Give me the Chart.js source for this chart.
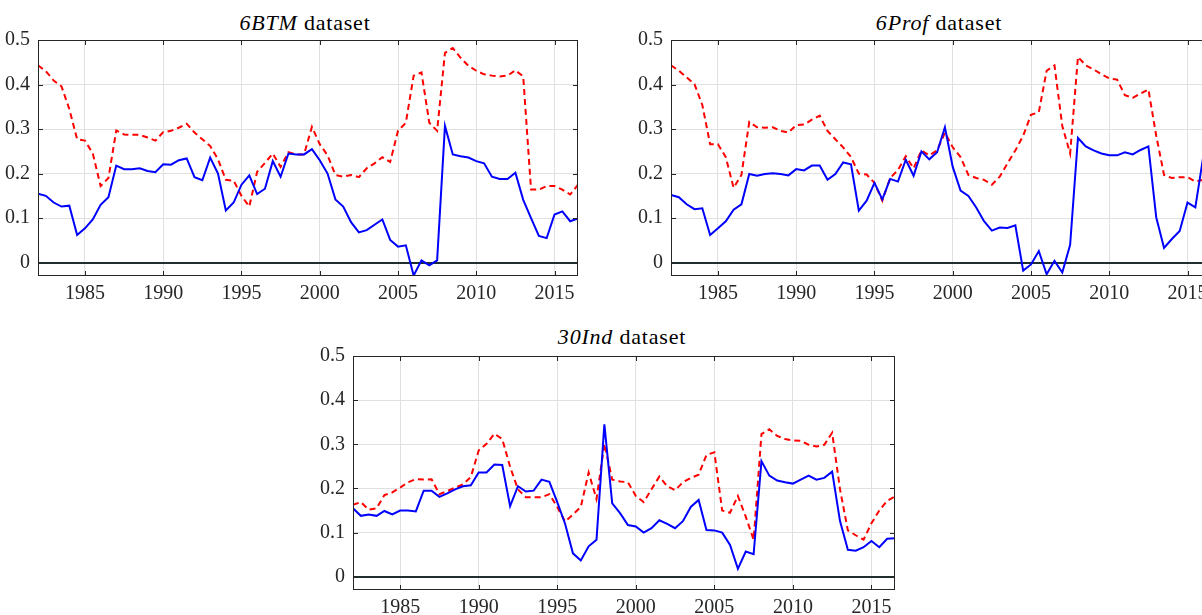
<!DOCTYPE html>
<html>
<head>
<meta charset="utf-8">
<script src="https://cdn.jsdelivr.net/npm/chart.js@4.4.1/dist/chart.umd.min.js"></script>
<style>
  html, body { margin:0; padding:0; background:#fff; }
  body { width:1202px; height:615px; overflow:hidden; position:relative; }
  canvas { position:absolute; }
  .ttl { position:absolute; width:300px; text-align:center; font-family:'Liberation Serif', 'DejaVu Serif', serif; font-size:22px; line-height:22px; color:#000; letter-spacing:0.8px; white-space:nowrap; }
</style>
</head>
<body>
<div class="ttl" style="left:155px; top:12px;"><i>6BTM</i> dataset</div>
<div class="ttl" style="left:789px; top:12px;"><i>6Prof</i> dataset</div>
<div class="ttl" style="left:472px; top:326px;"><i>30Ind</i> dataset</div>
<canvas id="c1" width="590" height="286" style="left:0px; top:20px;"></canvas>
<canvas id="c2" width="590" height="286" style="left:633px; top:20px;"></canvas>
<canvas id="c3" width="592" height="284" style="left:315px; top:336px;"></canvas>
<script>
// half-yearly observations
const years = [1982, 1982.5, 1983, 1983.5, 1984, 1984.5, 1985, 1985.5, 1986, 1986.5,
  1987, 1987.5, 1988, 1988.5, 1989, 1989.5, 1990, 1990.5, 1991, 1991.5,
  1992, 1992.5, 1993, 1993.5, 1994, 1994.5, 1995, 1995.5, 1996, 1996.5,
  1997, 1997.5, 1998, 1998.5, 1999, 1999.5, 2000, 2000.5, 2001, 2001.5,
  2002, 2002.5, 2003, 2003.5, 2004, 2004.5, 2005, 2005.5, 2006, 2006.5,
  2007, 2007.5, 2008, 2008.5, 2009, 2009.5, 2010, 2010.5, 2011, 2011.5,
  2012, 2012.5, 2013, 2013.5, 2014, 2014.5, 2015, 2015.5, 2016, 2016.5];

const btmBlue = [0.155,0.150,0.135,0.126,0.128,0.062,0.077,0.097,0.130,0.147,
  0.218,0.210,0.210,0.212,0.206,0.203,0.221,0.220,0.230,0.234,
  0.192,0.185,0.236,0.200,0.117,0.135,0.175,0.196,0.154,0.166,
  0.228,0.193,0.245,0.243,0.243,0.255,0.230,0.200,0.142,0.126,
  0.091,0.068,0.073,0.085,0.097,0.051,0.036,0.039,-0.029,0.005,
  -0.006,0.005,0.307,0.243,0.239,0.236,0.228,0.223,0.193,0.188,
  0.188,0.202,0.141,0.100,0.060,0.055,0.108,0.115,0.093,0.099];
const btmRed = [0.443,0.430,0.409,0.396,0.345,0.277,0.274,0.245,0.172,0.190,
  0.297,0.288,0.287,0.287,0.281,0.274,0.293,0.296,0.303,0.312,
  0.292,0.277,0.262,0.232,0.186,0.184,0.150,0.126,0.204,0.224,
  0.245,0.215,0.248,0.243,0.243,0.305,0.266,0.241,0.197,0.193,
  0.197,0.192,0.212,0.223,0.237,0.226,0.296,0.314,0.420,0.427,
  0.314,0.296,0.471,0.482,0.460,0.442,0.431,0.423,0.420,0.418,
  0.420,0.432,0.418,0.164,0.164,0.172,0.172,0.164,0.153,0.175];

const profBlue = [0.152,0.147,0.131,0.120,0.122,0.062,0.077,0.093,0.119,0.131,
  0.199,0.195,0.199,0.201,0.199,0.196,0.210,0.207,0.218,0.218,
  0.186,0.199,0.225,0.221,0.117,0.139,0.179,0.142,0.188,0.182,
  0.231,0.195,0.250,0.232,0.248,0.304,0.215,0.162,0.150,0.124,
  0.093,0.072,0.079,0.078,0.084,-0.018,-0.004,0.026,-0.026,0.004,
  -0.022,0.040,0.280,0.261,0.252,0.245,0.241,0.241,0.248,0.243,
  0.253,0.261,0.102,0.033,0.053,0.071,0.135,0.124,0.237,0.260];
const profRed = [0.443,0.431,0.416,0.401,0.354,0.266,0.266,0.237,0.168,0.197,
  0.316,0.304,0.303,0.304,0.296,0.292,0.309,0.310,0.321,0.330,
  0.296,0.277,0.259,0.237,0.200,0.198,0.179,0.139,0.190,0.208,
  0.239,0.212,0.252,0.241,0.252,0.292,0.259,0.237,0.197,0.190,
  0.186,0.175,0.193,0.223,0.252,0.285,0.332,0.338,0.431,0.443,
  0.307,0.245,0.462,0.443,0.434,0.423,0.414,0.411,0.376,0.370,
  0.380,0.389,0.285,0.197,0.190,0.192,0.192,0.182,0.186,0.195];

const indBlue = [0.155,0.138,0.141,0.138,0.149,0.141,0.150,0.150,0.148,0.195,
  0.195,0.181,0.189,0.198,0.205,0.207,0.236,0.236,0.254,0.253,
  0.160,0.205,0.193,0.195,0.220,0.215,0.169,0.120,0.053,0.037,
  0.069,0.084,0.345,0.166,0.144,0.117,0.114,0.100,0.110,0.128,
  0.120,0.110,0.126,0.158,0.174,0.106,0.105,0.100,0.072,0.018,
  0.057,0.051,0.262,0.229,0.218,0.214,0.211,0.220,0.229,0.220,
  0.224,0.238,0.126,0.061,0.059,0.067,0.081,0.067,0.086,0.087];
const indRed = [0.163,0.169,0.152,0.155,0.185,0.191,0.202,0.214,0.221,0.220,
  0.221,0.187,0.194,0.202,0.209,0.226,0.286,0.301,0.324,0.312,
  0.249,0.198,0.180,0.180,0.180,0.187,0.158,0.125,0.141,0.158,
  0.236,0.176,0.301,0.220,0.216,0.214,0.183,0.169,0.198,0.227,
  0.205,0.196,0.214,0.224,0.231,0.276,0.282,0.150,0.145,0.183,
  0.136,0.084,0.323,0.334,0.319,0.312,0.309,0.308,0.299,0.295,
  0.299,0.326,0.198,0.105,0.094,0.084,0.121,0.150,0.172,0.182];

const xTicks = [1985, 1990, 1995, 2000, 2005, 2010, 2015];
const yTicks = [0, 0.1, 0.2, 0.3, 0.4, 0.5];

Chart.defaults.font.family = "'Liberation Serif', 'DejaVu Serif', serif";
Chart.defaults.font.size = 20;
Chart.defaults.color = '#262626';

// box around the axes with inward tick marks
const boxPlugin = {
  id: 'box',
  afterDatasetsDraw(chart) {
    const { ctx, chartArea: a, scales } = chart;
    ctx.save();
    ctx.strokeStyle = '#262626';
    ctx.lineWidth = 1;
    ctx.strokeRect(a.left + 0.5, a.top + 0.5, a.right - a.left - 1, a.bottom - a.top - 1);
    ctx.beginPath();
    scales.x.ticks.forEach(t => {
      const px = Math.round(scales.x.getPixelForValue(t.value)) + 0.5;
      ctx.moveTo(px, a.bottom); ctx.lineTo(px, a.bottom - 5);
      ctx.moveTo(px, a.top); ctx.lineTo(px, a.top + 5);
    });
    scales.y.ticks.forEach(t => {
      const py = Math.round(scales.y.getPixelForValue(t.value)) + 0.5;
      ctx.moveTo(a.left, py); ctx.lineTo(a.left + 5, py);
      ctx.moveTo(a.right, py); ctx.lineTo(a.right - 5, py);
    });
    ctx.stroke();
    ctx.restore();
  }
};

function makeChart(id, blue, red) {
  new Chart(document.getElementById(id), {
    type: 'line',
    data: {
      datasets: [{
        data: years.map((x, i) => ({ x: x, y: blue[i] })),
        borderColor: '#0000ff',
        borderWidth: 2,
        pointRadius: 0,
        tension: 0
      }, {
        data: years.map((x, i) => ({ x: x, y: red[i] })),
        borderColor: '#ff0000',
        borderWidth: 2,
        borderDash: [6, 4],
        pointRadius: 0,
        tension: 0
      }]
    },
    options: {
      responsive: false,
      animation: false,
      devicePixelRatio: 1,
      layout: { padding: { top: 13, right: 12, left: 0, bottom: 0 } },
      plugins: { legend: { display: false }, tooltip: { enabled: false } },
      scales: {
        x: {
          type: 'linear',
          min: 1982,
          max: 2016.5,
          afterFit(s) { s.height = 30; },
          afterBuildTicks(s) { s.ticks = xTicks.map(v => ({ value: v })); },
          ticks: { padding: 6, maxRotation: 0, autoSkip: false, callback: v => String(v) },
          grid: { color: '#e0e0e0', drawTicks: false },
          border: { display: false }
        },
        y: {
          min: -0.03,
          max: 0.5,
          afterFit(s) { s.width = 38; },
          afterBuildTicks(s) { s.ticks = yTicks.map(v => ({ value: v })); },
          ticks: { padding: 8, callback: v => String(Math.round(v * 10) / 10) },
          grid: {
            color: c => (c.tick && c.tick.value === 0) ? '#1f2e2e' : '#e0e0e0',
            lineWidth: c => (c.tick && c.tick.value === 0) ? 2 : 1,
            drawTicks: false
          },
          border: { display: false }
        }
      }
    },
    plugins: [boxPlugin]
  });
}

makeChart('c1', btmBlue, btmRed);
makeChart('c2', profBlue, profRed);
makeChart('c3', indBlue, indRed);
</script>
</body>
</html>
